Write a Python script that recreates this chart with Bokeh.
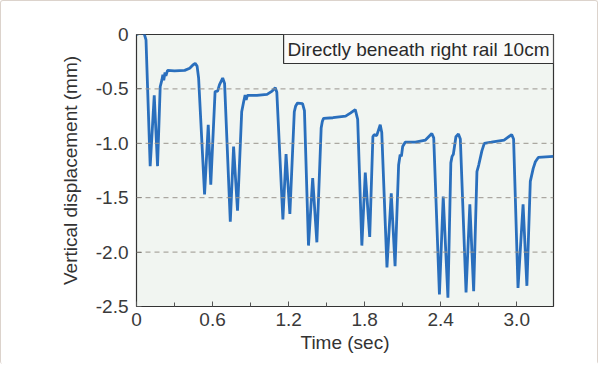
from bokeh.plotting import figure
from bokeh.models import Range1d, FixedTicker, Label, Span
from bokeh.embed import file_html
from bokeh.resources import INLINE

# ---- data ----
time_sec = [0.0, 0.02, 0.06, 0.075, 0.108, 0.14, 0.166, 0.187, 0.20, 0.208, 0.215, 0.225, 0.232, 0.245,
            0.30, 0.38, 0.42, 0.445, 0.463, 0.478, 0.49, 0.537, 0.566, 0.586, 0.62, 0.64, 0.655, 0.68,
            0.695, 0.74, 0.766, 0.797, 0.83, 0.845, 0.857, 0.865, 0.875, 0.95, 1.03, 1.07, 1.095, 1.107,
            1.155, 1.18, 1.21, 1.245, 1.255, 1.27, 1.31, 1.325, 1.357, 1.39, 1.423, 1.457, 1.466, 1.476,
            1.55, 1.65, 1.69, 1.726, 1.745, 1.778, 1.805, 1.84, 1.865, 1.875, 1.895, 1.923, 1.935, 1.976,
            2.01, 2.04, 2.068, 2.08, 2.09, 2.10, 2.12, 2.2, 2.28, 2.33, 2.345, 2.39, 2.42, 2.457, 2.48,
            2.49, 2.50, 2.52, 2.54, 2.555, 2.60, 2.63, 2.66, 2.686, 2.70, 2.725, 2.744, 2.80, 2.90, 2.96,
            2.975, 3.01, 3.05, 3.08, 3.107, 3.13, 3.147, 3.17, 3.29]
displacement_mm = [0.0, 0.01, 0.01, -0.05, -1.21, -0.56, -1.21, -0.48, -0.42, -0.37, -0.42, -0.35, -0.38, -0.33,
                   -0.335, -0.33, -0.31, -0.28, -0.266, -0.29, -0.40, -1.47, -0.83, -1.38, -0.525, -0.52, -0.46, -0.40,
                   -0.45, -1.72, -1.03, -1.62, -0.71, -0.62, -0.556, -0.60, -0.56, -0.56, -0.55, -0.52, -0.49, -0.53,
                   -1.70, -1.10, -1.65, -0.71, -0.66, -0.63, -0.635, -0.70, -1.94, -1.32, -1.91, -0.86, -0.80, -0.77,
                   -0.765, -0.75, -0.72, -0.69, -0.78, -1.94, -1.27, -1.86, -0.94, -0.92, -0.93, -0.83, -0.90, -2.14,
                   -1.46, -2.13, -1.20, -1.105, -1.12, -1.03, -0.99, -0.99, -0.97, -0.91, -0.95, -2.39, -1.49, -2.42, -1.18,
                   -1.12, -1.10, -0.94, -0.915, -0.96, -2.37, -1.56, -2.36, -1.26, -1.20, -1.07, -1.0, -0.99, -0.97, -0.92,
                   -0.96, -2.33, -1.56, -2.31, -1.35, -1.23, -1.17, -1.13, -1.12]

x_ticks = [0, 0.6, 1.2, 1.8, 2.4, 3.0]
x_tick_labels = ["0", "0.6", "1.2", "1.8", "2.4", "3.0"]
x_minor_ticks = [0.3, 0.9, 1.5, 2.1, 2.7]
y_ticks = [0, -0.5, -1.0, -1.5, -2.0, -2.5]
y_tick_labels = ["0", "-0.5", "-1.0", "-1.5", "-2.0", "-2.5"]
grid_levels = [-0.5, -1.0, -1.5, -2.0]
annotation_text = "Directly beneath right rail 10cm"
x_label = "Time (sec)"
y_label = "Vertical displacement (mm)"

FONT = "Liberation Sans"

p = figure(width=598, height=364, output_backend="svg", toolbar_location=None,
           x_range=Range1d(0, 3.29), y_range=Range1d(-2.5, 0.0),
           min_border_left=135, min_border_right=46, min_border_top=33, min_border_bottom=59,
           background_fill_color="#f1f5f1", border_fill_color="white",
           styles={"border-top": "1px solid #dcd3cc", "border-left": "1px solid #dcd3cc",
                   "border-right": "1px solid #dcd3cc", "border-radius": "3px"})

p.outline_line_color = "#333333"
p.outline_line_width = 1.2
p.xgrid.visible = False
p.ygrid.visible = False

for g in grid_levels:
    p.add_layout(Span(location=g, dimension="width", line_color="#9a958e",
                      line_dash="5 4", line_width=1))

p.line(time_sec, displacement_mm, line_color="#2a6fbd", line_width=2.8)

p.xaxis.ticker = FixedTicker(ticks=x_ticks, minor_ticks=x_minor_ticks)
p.xaxis.major_label_overrides = {t: l for t, l in zip(x_ticks, x_tick_labels)}
p.yaxis.ticker = FixedTicker(ticks=y_ticks, minor_ticks=[])
p.yaxis.major_label_overrides = {t: l for t, l in zip(y_ticks, y_tick_labels)}

for ax in (p.xaxis[0], p.yaxis[0]):
    ax.axis_line_color = None
    ax.major_tick_in = 5
    ax.major_tick_out = 0
    ax.minor_tick_in = 4
    ax.minor_tick_out = 0
    ax.major_tick_line_color = "#555555"
    ax.minor_tick_line_color = "#555555"
    ax.major_label_text_font = FONT
    ax.major_label_text_font_size = "19px"
    ax.major_label_text_color = "#3a3a3a"
    ax.axis_label_text_font = FONT
    ax.axis_label_text_font_size = "19px"
    ax.axis_label_text_font_style = "normal"
    ax.axis_label_text_color = "#333333"

p.xaxis.axis_label = x_label
p.yaxis.axis_label = y_label
p.xaxis.major_label_standoff = 6
p.xaxis.axis_label_standoff = 3
p.yaxis.major_label_standoff = 8
p.yaxis.axis_label_standoff = 12

lbl = Label(x=3.29, y=0.0, x_offset=0, y_offset=0, text=annotation_text,
            text_align="right", text_baseline="top",
            text_font=FONT, text_font_size="19px", text_color="#2a2a2a",
            padding=4, border_line_color="#333333", border_line_width=1.2,
            background_fill_color="#fbfbfa")
p.add_layout(lbl)

open("out.html", "w").write(file_html(p, INLINE))
